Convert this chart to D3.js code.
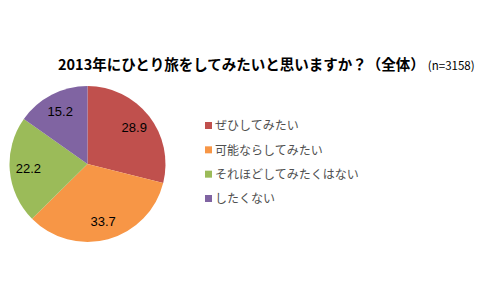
<!DOCTYPE html>
<html>
<head>
<meta charset="utf-8">
<style>
  body { margin: 0; background: #ffffff; font-family: "Noto Sans CJK JP", "Noto Sans", sans-serif; }
</style>
</head>
<body>
<svg id="chart" width="480" height="300"></svg>
<script src="https://d3js.org/d3.v7.min.js"></script>
<script>
  let categories = ["ぜひしてみたい", "可能ならしてみたい", "それほどしてみたくはない", "したくない"]
  let values = [28.9, 33.7, 22.2, 15.2]
  let colors = ["#C0504D", "#F79646", "#9BBB59", "#8064A2"]

  let svg = d3.select("#chart")
  let cx = 87.5, cy = 164, radius = 78

  // title
  let title = svg.append("text")
    .attr("x", 58)
    .attr("y", 70)
    .attr("font-size", 14.5)
    .attr("font-weight", "bold")
    .attr("fill", "#000")
  title.append("tspan").text("2013年にひとり旅をしてみたいと思いますか？（全体）")
  title.append("tspan").attr("dx", 3).attr("font-size", 11.5).attr("font-weight", "normal").text("(n=3158)")

  // pie
  let pie = d3.pie().sort(null).value(d => d)
  let arc = d3.arc().innerRadius(0).outerRadius(radius)
  let labelArc = d3.arc().innerRadius(radius * 0.76).outerRadius(radius * 0.76)

  let g = svg.append("g").attr("transform", `translate(${cx},${cy})`)
  let slices = pie(values)

  g.selectAll("path")
    .data(slices)
    .enter().append("path")
    .attr("d", arc)
    .attr("fill", (d, i) => colors[i])

  g.selectAll("text")
    .data(slices)
    .enter().append("text")
    .attr("transform", d => `translate(${labelArc.centroid(d)})`)
    .attr("text-anchor", "middle")
    .attr("dy", "0.35em")
    .attr("font-family", "Liberation Sans, Arial, sans-serif")
    .attr("font-size", 13)
    .attr("fill", "#000")
    .text(d => d.data.toFixed(1))

  // legend
  let legendY = d3.scalePoint().domain(categories).range([126, 199])
  let legend = svg.selectAll(".legend")
    .data(categories)
    .enter().append("g")
    .attr("class", "legend")
    .attr("transform", d => `translate(205,${legendY(d)})`)

  legend.append("rect")
    .attr("x", 0).attr("y", -4)
    .attr("width", 7).attr("height", 7)
    .attr("fill", (d, i) => colors[i])

  legend.append("text")
    .attr("x", 10)
    .attr("dy", "0.35em")
    .attr("font-size", 12)
    .attr("fill", "#505050")
    .text(d => d)
</script>
</body>
</html>
